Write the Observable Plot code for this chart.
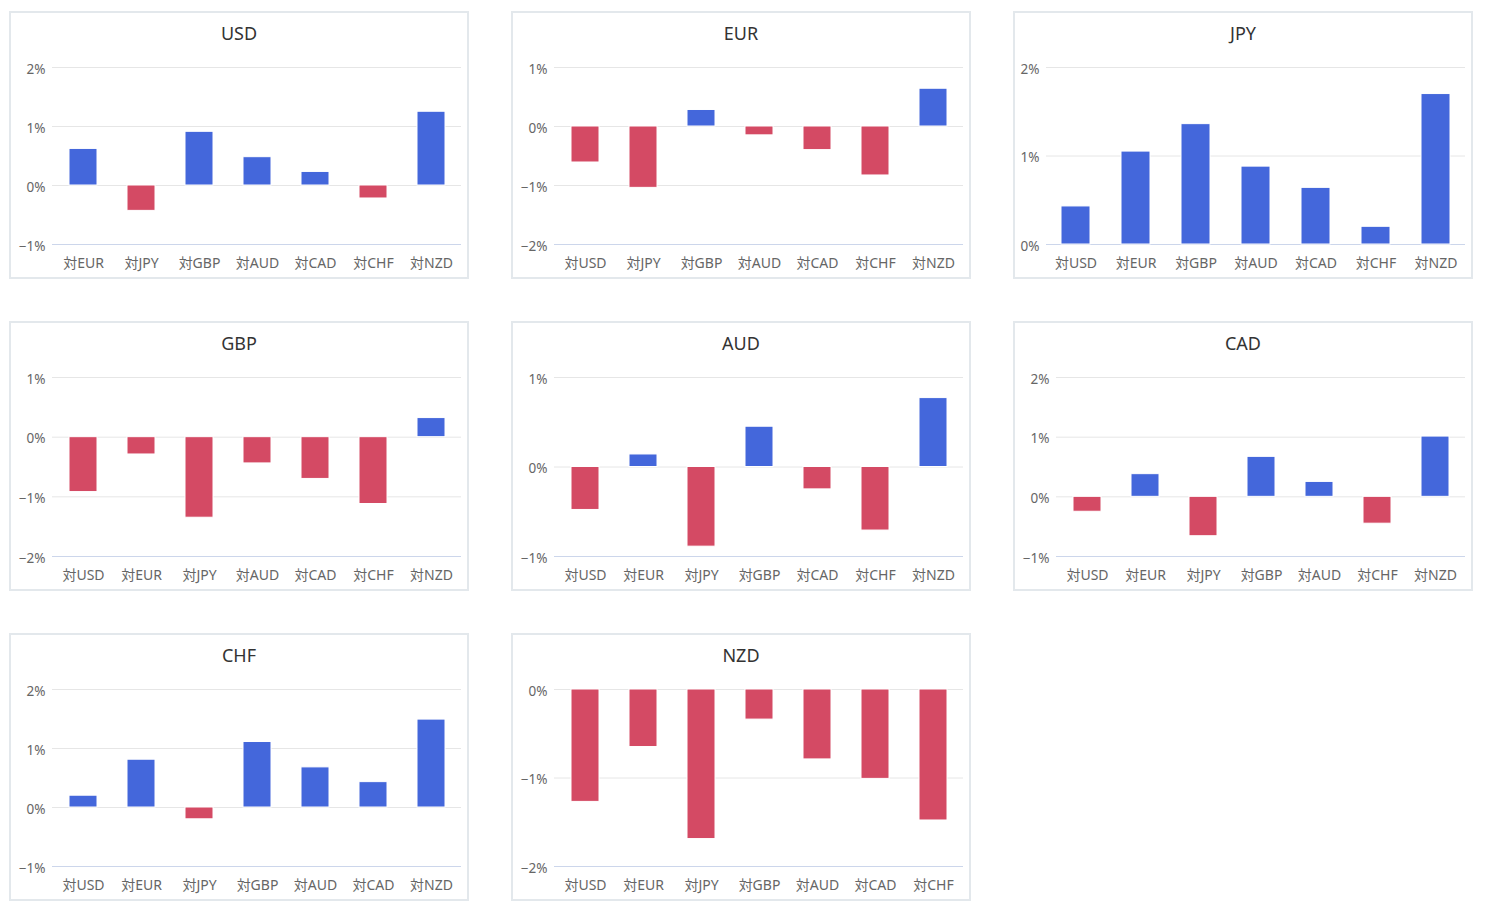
<!DOCTYPE html>
<html>
<head>
<meta charset="utf-8">
<script src="https://cdn.jsdelivr.net/npm/d3@7"></script>
<script src="https://cdn.jsdelivr.net/npm/@observablehq/plot@0.6"></script>
<style>
  html, body { margin: 0; padding: 0; background: #fff; }
  body { width: 1486px; height: 920px; position: relative; font-family: "Noto Sans", "Noto Sans CJK JP", sans-serif; }
  .panel { position: absolute; box-sizing: border-box; width: 460px; border: 2px solid #e3e8ec; background: #fff; }
  .panel .title { position: absolute; left: 0; right: 0; top: 8px; text-align: center; font-size: 18px; color: #333; line-height: 24px; }
  .panel svg { position: absolute; left: 0; top: 0; }
  .panel svg text { font-size: 13.5px !important; }
  .panel svg .xlab text { font-size: 14px !important; }
</style>
</head>
<body>
<div id="root"></div>
<script>
// Currencies shown, in panel order
const currencies = ["USD", "EUR", "JPY", "GBP", "AUD", "CAD", "CHF", "NZD"];

// Percentage change of each base currency against the others (in currency order, skipping itself)
const usdValues = [0.62, -0.43, 0.91, 0.48, 0.23, -0.22, 1.25];
const eurValues = [-0.61, -1.04, 0.28, -0.15, -0.40, -0.83, 0.64];
const jpyValues = [0.43, 1.05, 1.36, 0.88, 0.64, 0.20, 1.70];
const gbpValues = [-0.92, -0.29, -1.35, -0.44, -0.70, -1.12, 0.32];
const audValues = [-0.48, 0.14, -0.89, 0.45, -0.25, -0.71, 0.77];
const cadValues = [-0.25, 0.38, -0.66, 0.67, 0.25, -0.45, 1.01];
const chfValues = [0.20, 0.81, -0.20, 1.11, 0.68, 0.43, 1.49];
const nzdValues = [-1.27, -0.65, -1.69, -0.34, -0.79, -1.01, -1.48];
const seriesValues = [usdValues, eurValues, jpyValues, gbpValues, audValues, cadValues, chfValues, nzdValues];

// Y-axis tick values per panel
const usdTicks = [-1, 0, 1, 2];
const eurTicks = [-2, -1, 0, 1];
const jpyTicks = [0, 1, 2];
const gbpTicks = [-2, -1, 0, 1];
const audTicks = [-1, 0, 1];
const cadTicks = [-1, 0, 1, 2];
const chfTicks = [-1, 0, 1, 2];
const nzdTicks = [-2, -1, 0];
const panelTicks = [usdTicks, eurTicks, jpyTicks, gbpTicks, audTicks, cadTicks, chfTicks, nzdTicks];

const UP = "#4467db";
const DOWN = "#d44a64";
const fmt = d => (d < 0 ? "\u2212" : "") + Math.abs(d) + "%";

const lefts = [9, 511, 1013];
const tops = [11, 321, 633];
const heights = [268, 270, 268];
const root = document.getElementById("root");

currencies.forEach((base, i) => {
  const col = i % 3, row = Math.floor(i / 3);
  const h = heights[row];
  const labels = currencies.filter(c => c !== base).map(c => "対" + c);
  const data = labels.map((k, j) => ({k, v: seriesValues[i][j]}));
  const ticks = panelTicks[i];
  const hasNeg = ticks.some(t => t < 0);

  const panel = document.createElement("div");
  panel.className = "panel";
  panel.style.left = lefts[col] + "px";
  panel.style.top = tops[row] + "px";
  panel.style.height = h + "px";

  const chart = Plot.plot({
    width: 456,
    height: h - 4,
    marginTop: 54,
    marginBottom: 33,
    marginLeft: hasNeg ? 41 : 31,
    marginRight: 6,
    style: {fontFamily: '"Noto Sans", "Noto Sans CJK JP", sans-serif', fontSize: "13px", background: "transparent", overflow: "visible"},
    x: {domain: labels, paddingInner: 0.52, paddingOuter: 0.24, label: null},
    y: {domain: [d3.min(ticks), d3.max(ticks)], label: null},
    marks: [
      Plot.ruleY(ticks, {stroke: "#e6e6e6", strokeWidth: 1}),
      Plot.ruleY([d3.min(ticks)], {stroke: "#ccd6eb", strokeWidth: 1}),
      Plot.barY(data, {x: "k", y: "v", fill: d => d.v >= 0 ? UP : DOWN, stroke: "#fff", strokeWidth: 1}),
      Plot.axisY({ticks, tickSize: 0, tickPadding: 7, dy: 2, tickFormat: fmt, color: "#666", label: null}),
      Plot.axisX({tickSize: 0, tickPadding: 14, color: "#666", label: null, className: "xlab"})
    ]
  });
  panel.appendChild(chart);

  const title = document.createElement("div");
  title.className = "title";
  title.textContent = base;
  panel.appendChild(title);

  root.appendChild(panel);
});
</script>
</body>
</html>
